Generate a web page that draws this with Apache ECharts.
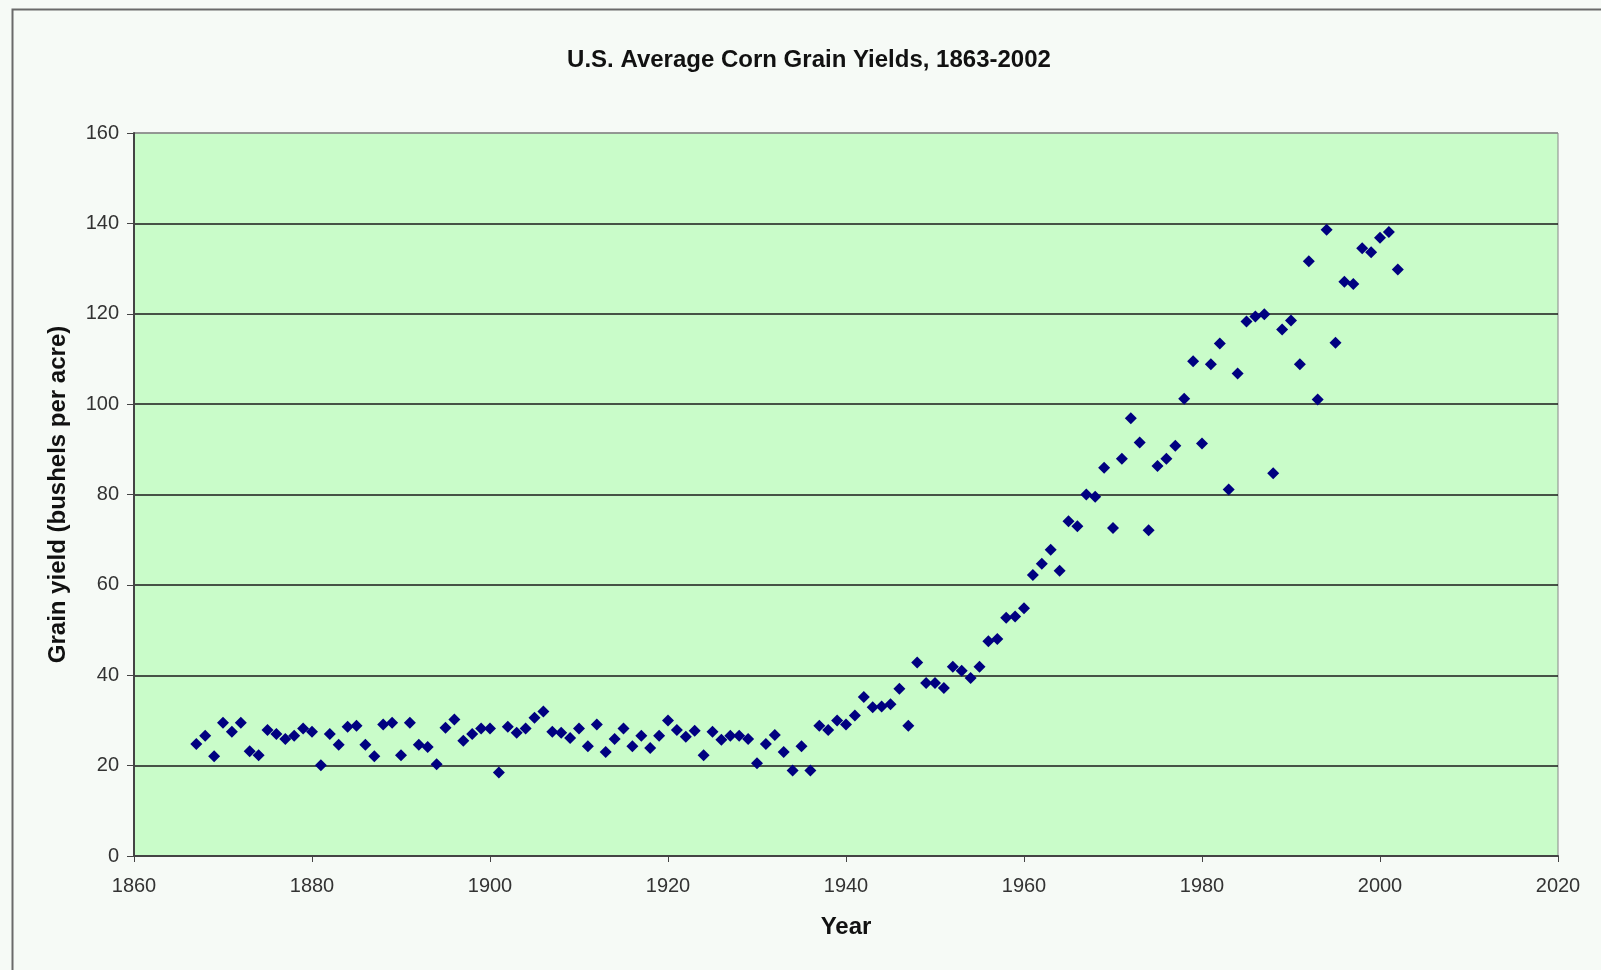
<!DOCTYPE html>
<html>
<head>
<meta charset="utf-8">
<script src="https://cdn.jsdelivr.net/npm/echarts@6/dist/echarts.min.js"></script>
<style>
html,body{margin:0;padding:0;background:#f6faf6;}
#chart{width:1601px;height:970px;}
</style>
</head>
<body>
<div id="chart"></div>
<script>
const titleText = "U.S. Average Corn Grain Yields, 1863-2002";
const xAxisName = "Year";
const yAxisName = "Grain yield (bushels per acre)";

const years = [
1867,1868,1869,1870,1871,1872,1873,1874,1875,1876,1877,1878,1879,1880,
1881,1882,1883,1884,1885,1886,1887,1888,1889,1890,1891,1892,1893,1894,1895,1896,1897,1898,1899,1900,
1901,1902,1903,1904,1905,1906,1907,1908,1909,1910,1911,1912,1913,1914,1915,1916,1917,1918,1919,1920,
1921,1922,1923,1924,1925,1926,1927,1928,1929,1930,1931,1932,1933,1934,1935,1936,1937,1938,1939,1940,
1941,1942,1943,1944,1945,1946,1947,1948,1949,1950,1951,1952,1953,1954,1955,1956,1957,1958,1959,1960,
1961,1962,1963,1964,1965,1966,1967,1968,1969,1970,1971,1972,1973,1974,1975,1976,1977,1978,1979,1980,
1981,1982,1983,1984,1985,1986,1987,1988,1989,1990,1991,1992,1993,1994,1995,1996,1997,1998,1999,2000,
2001,2002];

const yields = [
24.8,26.6,22.1,29.5,27.5,29.5,23.2,22.3,27.9,27.0,25.9,26.6,28.2,27.5,
20.1,27.0,24.6,28.6,28.8,24.6,22.1,29.1,29.5,22.3,29.5,24.6,24.1,20.3,28.4,30.2,25.5,27.0,28.2,28.2,
18.5,28.6,27.3,28.2,30.6,32.0,27.5,27.3,26.1,28.2,24.3,29.1,23.0,25.9,28.2,24.3,26.6,23.9,26.6,30.0,
27.9,26.4,27.7,22.3,27.5,25.7,26.6,26.6,25.9,20.5,24.8,26.8,23.0,18.9,24.3,18.9,28.8,27.9,30.0,29.1,
31.1,35.2,32.9,33.1,33.6,37.0,28.8,42.8,38.3,38.3,37.2,41.9,41.0,39.4,41.9,47.5,48.0,52.7,53.0,54.8,
62.2,64.7,67.8,63.1,74.1,73.0,80.0,79.5,85.9,72.6,87.9,96.9,91.5,72.1,86.3,87.9,90.8,101.2,109.5,91.3,
108.8,113.4,81.1,106.8,118.3,119.4,119.9,84.7,116.5,118.5,108.8,131.6,101.0,138.6,113.6,127.1,126.6,134.5,133.6,136.8,
138.1,129.8];

const points = years.map((y, i) => [y, yields[i]]);
const fontFam = "'Liberation Sans', Arial, sans-serif";

const chart = echarts.init(document.getElementById('chart'));
chart.setOption({
  backgroundColor: '#f6faf6',
  animation: false,
  title: {
    text: titleText,
    left: 804, top: 43, textAlign: 'center',
    textStyle: {fontFamily: fontFam, fontSize: 24, fontWeight: 'bold', color: '#111'}
  },
  graphic: [{
    type: 'rect', left: 10, top: 7, silent: true,
    shape: {width: 1700, height: 1100},
    style: {fill: 'none', stroke: '#6a6a6a', lineWidth: 2}
  }],
  grid: {left: 134, top: 133, right: 43, bottom: 114, show: true,
         backgroundColor: '#c9fcc9', borderColor: '#888', borderWidth: 1},
  xAxis: {
    type: 'value', min: 1860, max: 2020, interval: 20,
    name: xAxisName, nameLocation: 'middle', nameGap: 59,
    nameTextStyle: {fontFamily: fontFam, fontSize: 24, fontWeight: 'bold', color: '#111'},
    axisLine: {show: true, onZero: false, lineStyle: {color: '#444', width: 2}},
    axisTick: {show: true, length: 6, lineStyle: {color: '#444'}},
    axisLabel: {fontFamily: fontFam, fontSize: 20, color: '#333', margin: 20,
                formatter: v => String(v)},
    splitLine: {show: false}
  },
  yAxis: {
    type: 'value', min: 0, max: 160, interval: 20,
    name: yAxisName, nameLocation: 'middle', nameGap: 64, nameRotate: 90,
    nameTextStyle: {fontFamily: fontFam, fontSize: 24, fontWeight: 'bold', color: '#111'},
    axisLine: {show: true, lineStyle: {color: '#444', width: 2}},
    axisTick: {show: true, length: 7, lineStyle: {color: '#444'}},
    axisLabel: {fontFamily: fontFam, fontSize: 20, color: '#333', margin: 15},
    splitLine: {show: true, lineStyle: {
      color: ['#1a1a1a','#1a1a1a','#1a1a1a','#1a1a1a','#1a1a1a','#1a1a1a','#1a1a1a','#1a1a1a','#888'],
      width: 1.5}}
  },
  series: [{
    type: 'scatter', data: points, symbol: 'diamond', symbolSize: 12,
    itemStyle: {color: '#000080', opacity: 1}
  }]
});
</script>
</body>
</html>
